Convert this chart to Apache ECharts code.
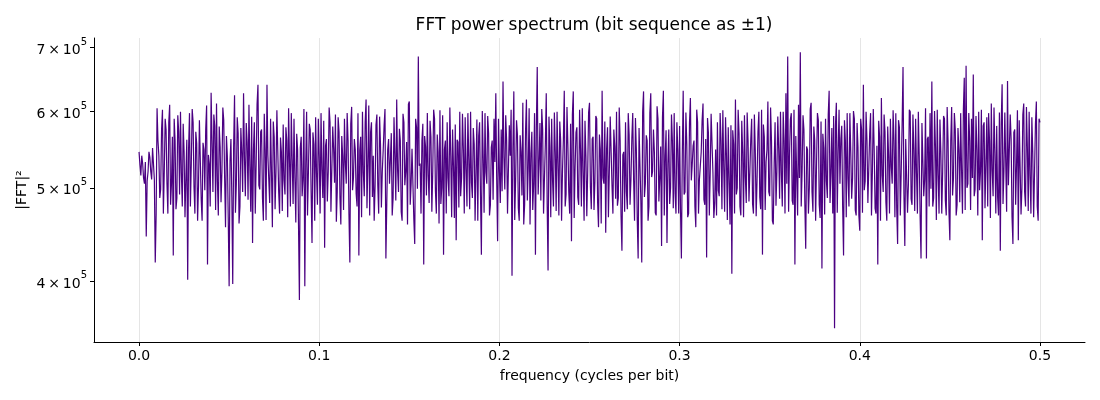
<!DOCTYPE html>
<html>
<head>
<meta charset="utf-8">
<script src="https://cdn.jsdelivr.net/npm/echarts@6/dist/echarts.min.js"></script>
<style>
  html, body { margin: 0; padding: 0; background: #fff; }
  #chart { width: 1100px; height: 400px; }
</style>
</head>
<body>
<div id="chart"></div>
<script>
// frequency grid: one bin every 0.0005 cycles per bit, 0 .. 0.5
var freqStep = 0.0005;

// |FFT|^2, in thousands
var powerK = [
  545,528,515,540,530,512,505,532,445,508,520,545,538,520,510,550,548,510,418,470,605,560,540,488,498,575,603,470,520,590,575,505,470,585,610,480,505,565,425,590,
  560,475,488,595,572,492,600,518,478,583,545,466,512,561,401,549,598,478,530,604,585,501,470,572,556,462,502,588,590,486,462,557,548,497,575,609,416,541,530,478,
  628,560,495,596,580,474,612,507,468,579,552,483,520,606,588,512,455,566,540,465,395,533,562,489,397,552,624,471,505,592,570,459,478,577,545,495,627,538,490,584,
  558,486,610,526,472,593,438,548,585,470,530,611,640,503,498,572,575,488,462,597,548,463,640,541,510,482,590,519,455,586,565,475,520,602,600,495,470,564,545,473,
  582,509,492,578,560,466,605,535,478,598,535,481,590,512,460,569,548,458,382,551,565,490,510,604,395,527,600,468,520,583,575,494,438,571,555,462,592,518,480,590,
  540,470,598,521,488,587,433,553,562,484,520,606,585,472,470,579,548,506,596,461,495,592,572,488,458,566,540,474,590,531,505,598,560,469,418,583,607,497,512,562,
  548,493,478,598,425,547,565,466,600,518,490,585,618,476,530,609,468,571,585,489,540,462,502,581,596,503,470,593,555,477,520,547,580,604,422,482,548,562,505,535,
  570,468,488,592,540,485,618,521,495,576,560,472,462,597,585,503,520,558,458,611,615,480,505,549,548,464,437,590,578,499,685,527,530,470,560,583,416,566,552,491,
  598,514,482,587,565,472,520,603,590,496,470,568,545,459,602,481,500,595,426,548,560,470,585,512,490,606,540,466,575,527,465,582,441,561,558,477,600,490,512,597,
  548,470,592,523,478,598,535,475,600,506,488,577,555,462,520,589,462,566,585,492,426,601,540,471,598,519,505,594,570,468,480,551,560,486,590,532,627,510,440,590,
  520,482,575,496,645,538,498,595,560,470,470,581,540,603,405,549,630,463,510,588,568,476,462,567,545,491,613,458,480,572,618,485,525,605,458,543,572,474,505,598,
  426,577,668,492,530,584,485,604,575,470,512,556,627,481,410,593,552,466,590,509,478,599,545,473,600,531,468,586,560,462,520,561,631,478,492,607,555,495,470,583,
  440,596,630,465,525,571,578,489,480,603,548,478,605,520,462,587,540,467,520,599,613,501,475,562,565,474,508,594,590,483,455,568,548,459,631,512,505,586,449,549,
  578,466,520,593,595,502,470,575,552,487,600,479,488,606,560,468,430,541,545,472,585,495,475,598,568,480,510,563,598,509,462,591,548,463,422,577,575,485,418,600,
  630,489,505,567,560,462,478,598,627,513,520,575,545,471,468,608,590,484,512,552,435,592,631,468,540,574,438,529,575,481,500,596,560,476,598,493,470,585,548,470,
  580,475,422,541,631,492,495,599,555,466,470,584,620,509,528,553,560,478,455,603,585,470,510,527,545,588,612,486,480,562,423,591,570,468,520,597,598,519,465,482,
  548,468,585,497,490,598,560,475,602,526,472,592,540,463,578,509,458,581,407,574,555,470,618,492,500,603,570,478,468,587,545,466,595,513,482,599,560,484,520,561,
  590,481,470,596,548,467,510,572,600,489,475,603,426,582,565,474,532,548,615,495,490,606,560,462,458,531,585,479,520,593,548,487,600,518,478,600,560,470,627,505,
  685,472,540,589,598,485,480,603,416,566,565,468,610,512,692,478,520,595,575,483,432,552,548,470,500,604,613,495,472,579,560,462,530,598,588,480,465,586,412,569,
  550,469,590,508,488,596,631,482,520,577,470,594,357,580,613,471,545,603,505,562,580,478,425,588,560,466,598,511,478,598,545,487,512,601,590,474,468,584,552,468,
  451,590,575,471,640,497,508,600,560,482,480,569,598,468,520,604,548,476,470,553,416,587,565,462,620,515,495,596,572,483,462,579,540,470,590,526,505,602,560,466,
  598,476,437,588,578,468,520,581,668,493,435,562,560,471,505,603,600,487,480,596,548,473,590,518,470,600,540,466,422,584,585,490,510,605,422,562,565,478,598,499,
  645,478,488,601,552,463,603,516,470,589,545,470,520,594,590,485,468,607,560,472,441,560,607,491,512,598,575,468,480,577,548,483,598,521,470,603,651,474,670,500,
  505,598,560,474,590,512,656,490,498,594,548,468,600,497,520,603,441,580,585,476,530,592,478,598,560,465,612,521,490,606,545,470,580,489,468,599,430,584,641,481,
  520,599,598,472,646,503,505,596,562,466,437,571,575,480,528,602,441,588,590,469,500,596,612,495,478,607,552,473,600,514,470,592,545,466,520,583,615,478,462,590,
  585
];

var xTicks = [0, 0.1, 0.2, 0.3, 0.4, 0.5];
var yTicks = [400000, 500000, 600000, 700000];
var yRange = [345500, 716000];

// plotted on a log10 scale (matplotlib semilogy)
var series = [];
for (var i = 0; i < powerK.length; i++) {
    series.push([i * freqStep, Math.log10(powerK[i] * 1000)]);
}

var chart = echarts.init(document.getElementById('chart'));
chart.setOption({
    animation: false,
    textStyle: { fontFamily: 'DejaVu Sans' },
    title: {
        text: 'FFT power spectrum (bit sequence as ±1)',
        left: 589,
        top: 12,
        textAlign: 'center',
        textStyle: { fontSize: 17, fontWeight: 'normal', color: '#000', fontFamily: 'DejaVu Sans' }
    },
    grid: { left: 94, right: 15, top: 38, bottom: 58 },
    xAxis: {
        type: 'value',
        min: -0.025,
        max: 0.525,
        name: 'frequency (cycles per bit)',
        nameLocation: 'middle',
        nameGap: 27,
        nameTextStyle: { fontSize: 14, color: '#000' },
        axisLine: { lineStyle: { color: '#000', width: 1 } },
        axisTick: { customValues: xTicks, length: 4, lineStyle: { color: '#000' } },
        axisLabel: {
            customValues: xTicks,
            margin: 7,
            fontSize: 14,
            color: '#000',
            formatter: function (v) { return v.toFixed(1); }
        },
        splitLine: { show: true, lineStyle: { color: '#e5e5e5', width: 1 } }
    },
    yAxis: {
        type: 'value',
        min: Math.log10(yRange[0]),
        max: Math.log10(yRange[1]),
        name: '|FFT|²',
        nameLocation: 'middle',
        nameGap: 65,
        nameMoveOverlap: false,
        nameTextStyle: { fontSize: 14, color: '#000' },
        axisLine: { show: true, onZero: false, lineStyle: { color: '#000', width: 1 } },
        axisTick: { show: true, customValues: yTicks.map(Math.log10), length: 4, lineStyle: { color: '#000' } },
        axisLabel: {
            customValues: yTicks.map(Math.log10),
            margin: 7,
            color: '#000',
            formatter: function (v) {
                var m = Math.round(Math.pow(10, v) / 100000);
                return '{m|' + m + '\u2009×\u200910}{e|5}';
            },
            rich: {
                m: { fontSize: 14, color: '#000', fontFamily: 'DejaVu Sans', verticalAlign: 'bottom', lineHeight: 20 },
                e: { fontSize: 10, color: '#000', fontFamily: 'DejaVu Sans', verticalAlign: 'top', lineHeight: 20 }
            }
        },
        splitLine: { show: false }
    },
    series: [{
        type: 'line',
        data: series,
        showSymbol: false,
        lineStyle: { color: '#4b0082', width: 1.2 },
        itemStyle: { color: '#4b0082' }
    }]
});
</script>
</body>
</html>
